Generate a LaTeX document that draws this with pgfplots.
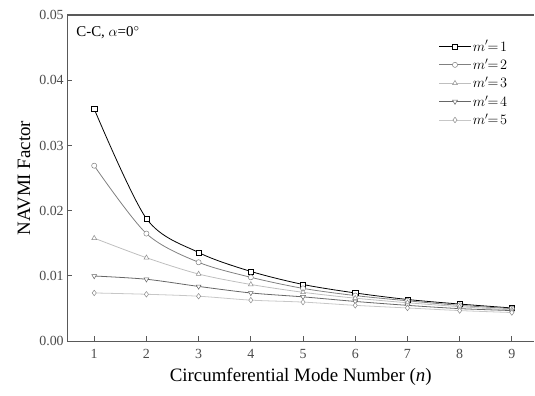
\documentclass[border=0pt]{standalone}
\usepackage{fontspec}
\setmainfont{Liberation Serif}
\usepackage{pgfplots}
\pgfplotsset{compat=1.18}
\begin{document}
\begin{tikzpicture}
\begin{axis}[
  scale only axis,
  width=467.7bp, height=326.7bp,
  xmin=0.483, xmax=9.43,
  ymin=0, ymax=0.05,
  axis x line*=bottom, axis y line*=left,
  axis line style={line width=1.4pt, draw=black!65, -},
  xtick={1,...,9},
  ytick={0,0.01,0.02,0.03,0.04,0.05},
  yticklabel style={/pgf/number format/.cd, fixed, fixed zerofill, precision=2},
  /pgf/number format/assume math mode=true,
  scaled y ticks=false,
  tick align=inside,
  major tick length=5pt,
  tick style={line width=1pt, draw=black!65},
  ticklabel style={font=\fontsize{14}{16}\selectfont, text=black!70},
  xticklabel style={yshift=-5pt},
  xlabel={Circumferential Mode Number (\textit{n})},
  ylabel={NAVMI Factor},
  label style={font=\fontsize{19}{22}\selectfont},
  xlabel style={yshift=-2pt},
  ylabel style={yshift=2pt},
  legend style={draw=none, fill=none, at={(0.953,0.935)}, anchor=north east,
    font=\fontsize{14}{16}\selectfont, row sep=2.2pt},
  legend cell align=left,
  legend image code/.code={
    \draw[mark repeat=2,mark phase=2] plot coordinates {(0cm,0cm) (0.55cm,0cm) (1.1cm,0cm)};
  },
  every axis plot/.append style={smooth, tension=0.5, line width=0.8pt},
]
\addplot[black, mark=square*, mark options={solid, fill=white, scale=1.3, line width=0.5pt}] coordinates {(1,0.0356)(2,0.0188)(3,0.0136)(4,0.0107)(5,0.0087)(6,0.0074)(7,0.0064)(8,0.0057)(9,0.0051)};
\addlegendentry{$m'\!\!=\!1$}
\addplot[black!50, mark=*, mark options={solid, fill=white, scale=1.3, line width=0.5pt}] coordinates {(1,0.0269)(2,0.0165)(3,0.0121)(4,0.0098)(5,0.0081)(6,0.0070)(7,0.0062)(8,0.0055)(9,0.0050)};
\addlegendentry{$m'\!\!=\!2$}
\addplot[black!25, mark=triangle*, mark options={solid, fill=white, draw=black!45, scale=1.4, line width=0.5pt}] coordinates {(1,0.0158)(2,0.0128)(3,0.0103)(4,0.0087)(5,0.0075)(6,0.0066)(7,0.0059)(8,0.0053)(9,0.0048)};
\addlegendentry{$m'\!\!=\!3$}
\addplot[black!60, mark=triangle*, mark options={solid, fill=white, rotate=180, scale=1.4, line width=0.5pt}] coordinates {(1,0.0100)(2,0.0095)(3,0.0084)(4,0.0074)(5,0.0068)(6,0.0061)(7,0.0055)(8,0.0050)(9,0.0047)};
\addlegendentry{$m'\!\!=\!4$}
\addplot[black!22, mark=diamond*, mark options={solid, fill=white, draw=black!45, scale=1.4, line width=0.5pt}] coordinates {(1,0.0074)(2,0.0072)(3,0.0069)(4,0.0063)(5,0.0060)(6,0.0055)(7,0.0051)(8,0.0047)(9,0.0044)};
\addlegendentry{$m'\!\!=\!5$}
\node[anchor=north west, font=\fontsize{15}{17}\selectfont] at (rel axis cs:0.012,0.975) {C-C, $\alpha$=0$^\circ$};
\draw[line width=1.4pt, black!65] (rel axis cs:0,1) -- (rel axis cs:1,1);
\end{axis}
\path ([xshift=-67.3bp,yshift=-54.3bp]current axis.south west) rectangle ([yshift=15bp]current axis.north east);
\end{tikzpicture}
\end{document}
